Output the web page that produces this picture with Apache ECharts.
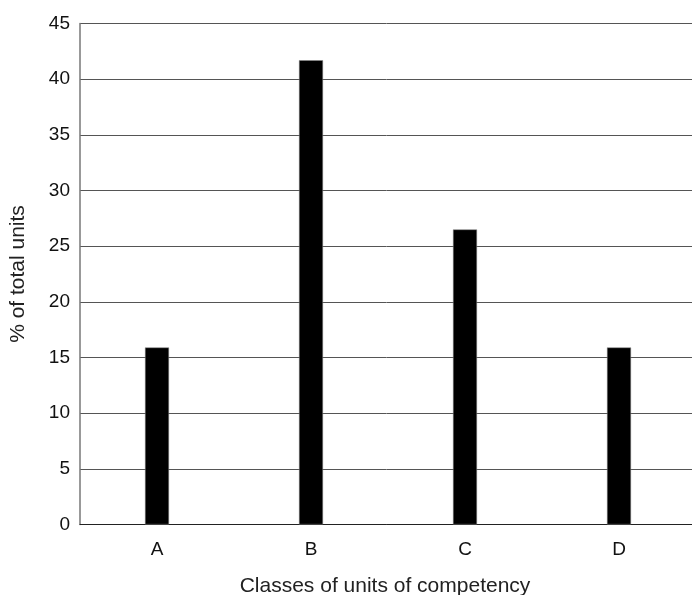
<!DOCTYPE html>
<html><head><meta charset="utf-8">
<script src="https://cdn.jsdelivr.net/npm/echarts@6/dist/echarts.min.js"></script>
<style>html,body{margin:0;padding:0;background:#fff}#c{width:692px;height:595px}</style>
</head><body><div id="c"></div>
<script>
const categories = ['A', 'B', 'C', 'D'];
const values = [15.9, 41.7, 26.5, 15.9];
const yTicks = [0, 5, 10, 15, 20, 25, 30, 35, 40, 45];

const chart = echarts.init(document.getElementById('c'));
chart.setOption({
  animation: false,
  backgroundColor: '#fff',
  textStyle: { fontFamily: 'Liberation Sans, Arial, sans-serif' },
  grid: { left: 80, top: 23.5, width: 616, height: 501, outerBoundsMode: 'none', containLabel: false },
  xAxis: {
    type: 'category', data: categories,
    name: 'Classes of units of competency', nameLocation: 'middle', nameGap: 51,
    nameTextStyle: { fontSize: 21, color: '#222', padding: [0, 0, 0, -6] },
    axisLine: { lineStyle: { color: '#222', width: 1 } },
    axisTick: { show: false },
    axisLabel: { fontSize: 19, color: '#111', margin: 16 }
  },
  yAxis: {
    type: 'value', min: yTicks[0], max: yTicks[yTicks.length - 1], interval: 5,
    name: '% of total units', nameLocation: 'middle', nameGap: 51,
    nameTextStyle: { fontSize: 21, color: '#222' },
    axisLine: { show: true, lineStyle: { color: '#777', width: 1.5 } },
    axisTick: { show: false },
    axisLabel: { fontSize: 19, color: '#111', margin: 10 },
    splitLine: { lineStyle: { color: '#555', width: 1 } }
  },
  series: [{
    type: 'bar', data: values, barWidth: 24,
    itemStyle: { color: '#000', borderColor: '#888', borderWidth: 0.5 }
  }]
});
</script></body></html>
